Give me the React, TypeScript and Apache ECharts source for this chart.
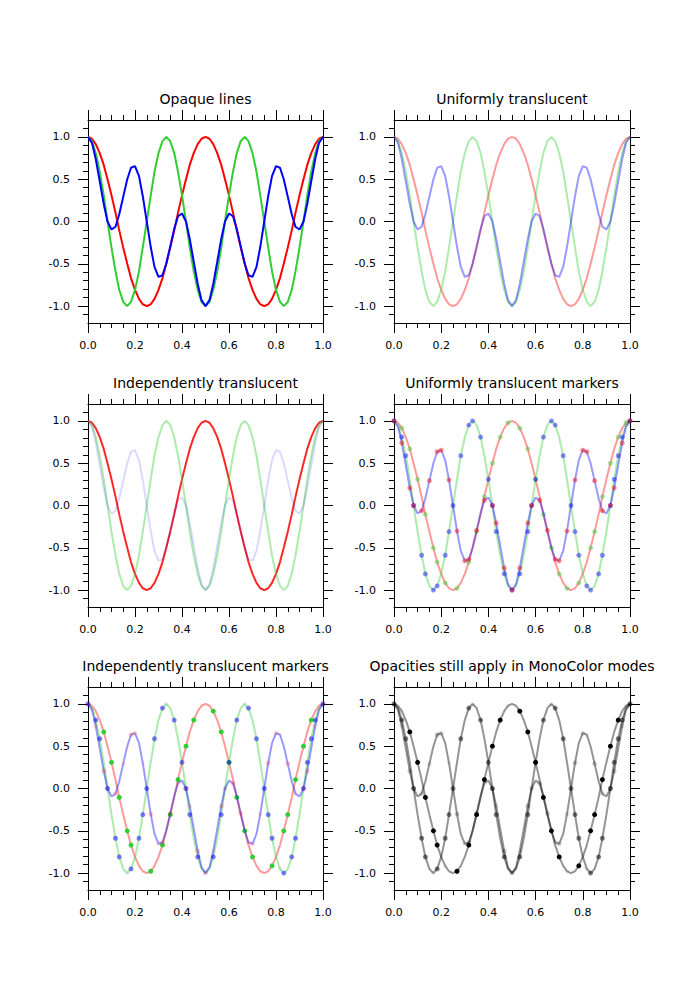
import { useEffect, useRef } from "react";
import * as echarts from "echarts";

// Shared sample positions (x) and the three waveforms sampled on them
const xs = [
  0, 0.017, 0.033, 0.05, 0.067, 0.083, 0.1, 0.117, 0.133, 0.15, 0.167, 0.183, 0.2, 0.217, 0.233, 0.25,
  0.267, 0.283, 0.3, 0.317, 0.333, 0.35, 0.367, 0.383, 0.4, 0.417, 0.433, 0.45, 0.467, 0.483, 0.5,
  0.517, 0.533, 0.55, 0.567, 0.583, 0.6, 0.617, 0.633, 0.65, 0.667, 0.683, 0.7, 0.717, 0.733, 0.75,
  0.767, 0.783, 0.8, 0.817, 0.833, 0.85, 0.867, 0.883, 0.9, 0.917, 0.933, 0.95, 0.967, 0.983, 1,
];

const redWave = [
  1, 0.978, 0.914, 0.809, 0.669, 0.5, 0.309, 0.105, -0.105, -0.309, -0.5, -0.669, -0.809, -0.914, -0.978, -1,
  -0.978, -0.914, -0.809, -0.669, -0.5, -0.309, -0.105, 0.105, 0.309, 0.5, 0.669, 0.809, 0.914, 0.978, 1,
  0.978, 0.914, 0.809, 0.669, 0.5, 0.309, 0.105, -0.105, -0.309, -0.5, -0.669, -0.809, -0.914, -0.978, -1,
  -0.978, -0.914, -0.809, -0.669, -0.5, -0.309, -0.105, 0.105, 0.309, 0.5, 0.669, 0.809, 0.914, 0.978, 1,
];

const greenWave = [
  1, 0.951, 0.809, 0.588, 0.309, 0, -0.309, -0.588, -0.809, -0.951, -1, -0.951, -0.809, -0.588, -0.309, 0,
  0.309, 0.588, 0.809, 0.951, 1, 0.951, 0.809, 0.588, 0.309, 0, -0.309, -0.588, -0.809, -0.951, -1,
  -0.951, -0.809, -0.588, -0.309, 0, 0.309, 0.588, 0.809, 0.951, 1, 0.951, 0.809, 0.588, 0.309, 0,
  -0.309, -0.588, -0.809, -0.951, -1, -0.951, -0.809, -0.588, -0.309, 0, 0.309, 0.588, 0.809, 0.951, 1,
];

const blueWave = [
  1, 0.93, 0.739, 0.476, 0.207, 0, -0.095, -0.062, 0.085, 0.294, 0.5, 0.636, 0.654, 0.537, 0.302, 0,
  -0.302, -0.537, -0.654, -0.636, -0.5, -0.294, -0.085, 0.062, 0.095, 0, -0.207, -0.476, -0.739, -0.93, -1,
  -0.93, -0.739, -0.476, -0.207, 0, 0.095, 0.062, -0.085, -0.294, -0.5, -0.636, -0.654, -0.537, -0.302, 0,
  0.302, 0.537, 0.654, 0.636, 0.5, 0.294, 0.085, -0.062, -0.095, 0, 0.207, 0.476, 0.739, 0.93, 1,
];

// Sample indices that carry a marker, per waveform
const redMarkerIdx = [0, 2, 4, 6, 8, 10, 11, 13, 16, 19, 21, 23, 25, 27, 29, 32, 34, 36, 38, 40, 42, 44, 47, 50, 51, 53, 55, 57, 59, 60];
const greenMarkerIdx = [0, 2, 3, 5, 7, 8, 10, 11, 13, 14, 15, 17, 19, 20, 22, 24, 25, 26, 28, 30, 32, 34, 35, 36, 38, 40, 41, 43, 45, 46, 47, 49, 50, 52, 53, 55, 56, 57, 58, 60];
const blueMarkerIdx = [0, 2, 4, 5, 7, 9, 11, 12, 14, 16, 18, 19, 21, 23, 25, 26, 28, 30, 32, 34, 35, 37, 39, 41, 42, 44, 46, 48, 49, 51, 53, 55, 56, 58, 60];

// Per-marker opacity for the "independent" panels
const redMarkerAlpha = [0.04, 0.04, 1, 1, 1, 1, 1, 0.04, 1, 1, 1, 1, 1, 1, 0.04, 1, 1, 1, 1, 1, 1, 0.04, 1, 1, 1, 1, 1, 1, 0.04, 0.04];
const greenMarkerAlpha = [0.5, 0.5, 0.5, 0.5, 0.5, 0.5, 0.05, 0.5, 0.5, 0.5, 0.5, 0.5, 0.5, 0.05, 0.5, 0.5, 0.5, 0.5, 0.5, 0.05, 0.5, 0.5, 0.05, 0.5, 0.5, 0.05, 0.5, 0.5, 0.5, 0.5, 0.5, 0.05, 0.5, 0.5, 0.5, 0.5, 0.5, 0.5, 0.5, 0.5];
const blueMarkerAlpha = [0.15, 0.1, 0.2, 0.05, 0.15, 0.1, 0.2, 0.15, 0.05, 0.2, 0.1, 0.15, 0.2, 0.05, 0.15, 0.1, 0.2, 0.15, 0.05, 0.2, 0.1, 0.15, 0.2, 0.05, 0.15, 0.1, 0.2, 0.15, 0.05, 0.2, 0.1, 0.15, 0.2, 0.1, 0.15];

const yMajorTicks = [-1, -0.5, 0, 0.5, 1];
const yMinorTicks = [-1.1, -0.9, -0.8, -0.7, -0.6, -0.4, -0.3, -0.2, -0.1, 0.1, 0.2, 0.3, 0.4, 0.6, 0.7, 0.8, 0.9, 1.1];

const titles = [
  "Opaque lines",
  "Uniformly translucent",
  "Independently translucent",
  "Uniformly translucent markers",
  "Independently translucent markers",
  "Opacities still apply in MonoColor modes",
];

const RED = "#ff0000";
const GREEN = "#32cd32";
const BLUE = "#0000ff";
const BLACK = "#000000";
const FONT = "DejaVu Sans";

type LineSpec = { color: string; alpha: number };
type MarkSpec = { color: string; alpha: number | number[] } | null;
type PanelSpec = { lines: LineSpec[]; marks: MarkSpec[] };

const panels: PanelSpec[] = [
  {
    lines: [{ color: RED, alpha: 1 }, { color: GREEN, alpha: 1 }, { color: BLUE, alpha: 1 }],
    marks: [null, null, null],
  },
  {
    lines: [{ color: RED, alpha: 0.4 }, { color: GREEN, alpha: 0.4 }, { color: BLUE, alpha: 0.4 }],
    marks: [null, null, null],
  },
  {
    lines: [{ color: RED, alpha: 0.85 }, { color: GREEN, alpha: 0.4 }, { color: BLUE, alpha: 0.15 }],
    marks: [null, null, null],
  },
  {
    lines: [{ color: RED, alpha: 0.4 }, { color: GREEN, alpha: 0.4 }, { color: BLUE, alpha: 0.4 }],
    marks: [
      { color: GREEN, alpha: 0.45 },
      { color: BLUE, alpha: 0.45 },
      { color: RED, alpha: 0.45 },
    ],
  },
  {
    lines: [{ color: RED, alpha: 0.4 }, { color: GREEN, alpha: 0.4 }, { color: BLUE, alpha: 0.4 }],
    marks: [
      { color: GREEN, alpha: redMarkerAlpha },
      { color: BLUE, alpha: greenMarkerAlpha },
      { color: RED, alpha: blueMarkerAlpha },
    ],
  },
  {
    lines: [{ color: BLACK, alpha: 0.42 }, { color: BLACK, alpha: 0.42 }, { color: BLACK, alpha: 0.42 }],
    marks: [
      { color: BLACK, alpha: redMarkerAlpha },
      { color: BLACK, alpha: greenMarkerAlpha },
      { color: BLACK, alpha: blueMarkerAlpha },
    ],
  },
];

const colLeft = [88, 394];
const colWidth = [235, 236];
const rowTop = [120, 404, 687];
const panelHeight = 203;

function buildOption() {
  const grid: any[] = [];
  const xAxis: any[] = [];
  const yAxis: any[] = [];
  const series: any[] = [];
  const graphic: any[] = [];

  const waves = [redWave, greenWave, blueWave];
  const markIdx = [redMarkerIdx, greenMarkerIdx, blueMarkerIdx];

  const axisLine = { show: true, onZero: false, lineStyle: { color: "#000", width: 1 } };
  const tickStyle = { color: "#000", width: 1 };
  const labelStyle = { color: "#000", fontSize: 11, fontFamily: FONT };

  panels.forEach((p, i) => {
    const col = i % 2;
    const row = Math.floor(i / 2);
    const left = colLeft[col];
    const top = rowTop[row];
    const width = colWidth[col];
    grid.push({ left, top, width, height: panelHeight, containLabel: false, outerBoundsMode: "none" });

    const xBase = {
      type: "value",
      gridIndex: i,
      min: 0,
      max: 1,
      interval: 0.2,
      axisLine,
      splitLine: { show: false },
      minorSplitLine: { show: false },
      axisTick: { show: true, length: 10, lineStyle: tickStyle },
      minorTick: { show: true, splitNumber: 4, length: 5, lineStyle: tickStyle },
    };
    xAxis.push({
      ...xBase,
      position: "bottom",
      axisLabel: { ...labelStyle, margin: 17, formatter: (v: number) => v.toFixed(1) },
    });
    xAxis.push({ ...xBase, position: "top", axisLabel: { show: false } });

    const yBase = {
      type: "value",
      gridIndex: i,
      min: -1.2,
      max: 1.2,
      axisLine,
      splitLine: { show: false },
      minorSplitLine: { show: false },
    };
    yAxis.push({
      ...yBase,
      position: "left",
      axisTick: { show: true, length: 10, lineStyle: tickStyle, customValues: yMajorTicks },
      axisLabel: { ...labelStyle, margin: 18, customValues: yMajorTicks, formatter: (v: number) => v.toFixed(1) },
    });
    yAxis.push({
      ...yBase,
      position: "left",
      axisTick: { show: true, length: 5, lineStyle: tickStyle, customValues: yMinorTicks },
      axisLabel: { show: false },
    });
    yAxis.push({
      ...yBase,
      position: "right",
      axisTick: { show: true, length: 10, lineStyle: tickStyle, customValues: yMajorTicks },
      axisLabel: { show: false },
    });
    yAxis.push({
      ...yBase,
      position: "right",
      axisTick: { show: true, length: 5, lineStyle: tickStyle, customValues: yMinorTicks },
      axisLabel: { show: false },
    });

    p.lines.forEach((ls, s) => {
      const wave = waves[s];
      series.push({
        type: "line",
        xAxisIndex: 2 * i,
        yAxisIndex: 4 * i,
        data: xs.map((x, k) => [x, wave[k]]),
        showSymbol: false,
        silent: true,
        lineStyle: { color: ls.color, width: 2, opacity: ls.alpha },
        z: 2 + s * 2,
      });
      const mk = p.marks[s];
      if (mk) {
        series.push({
          type: "scatter",
          xAxisIndex: 2 * i,
          yAxisIndex: 4 * i,
          symbol: "circle",
          symbolSize: 5,
          silent: true,
          z: 3 + s * 2,
          data: markIdx[s].map((k, j) => ({
            value: [xs[k], wave[k]],
            itemStyle: {
              color: mk.color,
              opacity: Array.isArray(mk.alpha) ? mk.alpha[j] : mk.alpha,
            },
          })),
        });
      }
    });

    graphic.push({
      type: "text",
      x: left + width / 2,
      y: top - 21,
      style: {
        text: titles[i],
        fill: "#000",
        fontSize: 14,
        fontFamily: FONT,
        align: "center",
        verticalAlign: "middle",
        textAlign: "center",
        textVerticalAlign: "middle",
      },
    });
  });

  return {
    animation: false,
    backgroundColor: "#ffffff",
    textStyle: { fontFamily: FONT },
    grid,
    xAxis,
    yAxis,
    series,
    graphic,
  };
}

export default function App() {
  const ref = useRef<HTMLDivElement>(null);

  useEffect(() => {
    if (!ref.current) return;
    const chart = echarts.init(ref.current, undefined, { renderer: "svg" });
    chart.setOption(buildOption() as any);
    return () => chart.dispose();
  }, []);

  return (
    <div
      ref={ref}
      style={{ position: "absolute", left: 0, top: 0, width: 700, height: 1000, background: "#fff" }}
    />
  );
}
